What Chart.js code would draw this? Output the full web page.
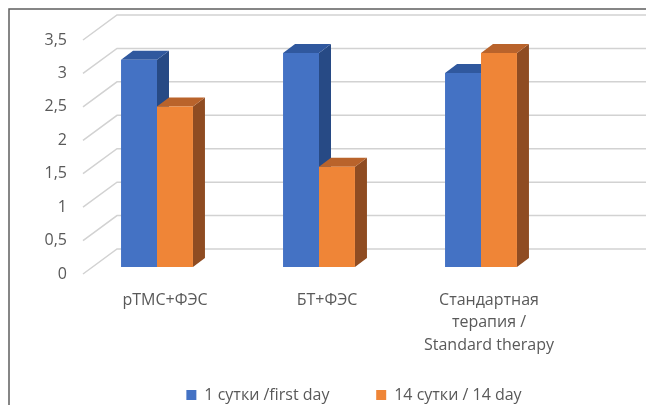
<!DOCTYPE html>
<html>
<head>
<meta charset="utf-8">
<script src="https://cdn.jsdelivr.net/npm/chart.js@4/dist/chart.umd.min.js"></script>
<style>
  body { margin: 0; background: #fff; }
</style>
</head>
<body>
<canvas id="chart" width="646" height="405"></canvas>
<script>
const categories = [
    'рТМС+ФЭС',
    'БТ+ФЭС',
    ['Стандартная', 'терапия /', 'Standard therapy'],
];
const seriesNames = ['1 сутки /first day', '14 сутки / 14 day'];
const firstDay = [3.1, 3.2, 2.9];
const day14 = [2.4, 1.5, 3.2];
const yTicks = [0, 0.5, 1, 1.5, 2, 2.5, 3, 3.5];

// depth of a bar and offset of the back wall (px)
const DX = 12, DY = -9;
const WALL_DX = 41, WALL_DY = -18;
const FRONT_DX = 7, FRONT_DY = 7;
const LEGEND_SHIFT = 73;

const faceColors = [
    { side: '#274a85', top: '#30589e' },
    { side: '#8f4c22', top: '#b9632b' },
];

const depthPlugin = {
    id: 'depth',
    afterLayout(chart) {
        // legend sits centred on the whole frame, not on the plot
        chart.legend.left += LEGEND_SHIFT;
        chart.legend.right += LEGEND_SHIFT;
    },
    beforeDatasetsDraw(chart) {
        const ctx = chart.ctx;
        const area = chart.chartArea;
        const yScale = chart.scales.y;
        ctx.save();
        // floor / wall gridlines
        ctx.strokeStyle = '#d2d2d2';
        ctx.lineWidth = 1.5;
        yTicks.forEach((v) => {
            const py = yScale.getPixelForValue(v);
            ctx.beginPath();
            ctx.moveTo(area.left + FRONT_DX, py + FRONT_DY);
            ctx.lineTo(area.left + WALL_DX, py + WALL_DY);
            ctx.lineTo(chart.width, py + WALL_DY);
            ctx.stroke();
        });
        // side and top faces of every bar
        chart.data.datasets.forEach((ds, i) => {
            const meta = chart.getDatasetMeta(i);
            meta.data.forEach((bar) => {
                const l = bar.x - bar.width / 2;
                const r = bar.x + bar.width / 2;
                const t = bar.y;
                const b = bar.base;
                ctx.fillStyle = faceColors[i].side;
                ctx.beginPath();
                ctx.moveTo(r, t);
                ctx.lineTo(r + DX, t + DY);
                ctx.lineTo(r + DX, b + DY);
                ctx.lineTo(r, b);
                ctx.closePath();
                ctx.fill();
                ctx.fillStyle = faceColors[i].top;
                ctx.beginPath();
                ctx.moveTo(l, t);
                ctx.lineTo(l + DX, t + DY);
                ctx.lineTo(r + DX, t + DY);
                ctx.lineTo(r, t);
                ctx.closePath();
                ctx.fill();
            });
        });
        ctx.restore();
    },
    afterDraw(chart) {
        const ctx = chart.ctx;
        ctx.save();
        ctx.strokeStyle = '#5f5f5f';
        ctx.lineWidth = 1.5;
        ctx.strokeRect(9, 9, 800, 600);
        ctx.restore();
    },
};

const ctx = document.getElementById('chart').getContext('2d');
const chart = new Chart(ctx, {
    type: 'bar',
    data: {
        labels: categories,
        datasets: [{
            label: seriesNames[0],
            data: firstDay,
            backgroundColor: '#4472c4',
            borderWidth: 0,
        }, {
            label: seriesNames[1],
            data: day14,
            backgroundColor: '#ef8537',
            borderWidth: 0,
        }],
    },
    options: {
        responsive: false,
        animation: false,
        layout: {
            padding: { left: 0, right: 84, top: 33, bottom: -8 },
        },
        datasets: {
            bar: {
                categoryPercentage: 0.444,
                barPercentage: 1.0,
            },
        },
        scales: {
            x: {
                grid: { display: false, drawTicks: false },
                border: { display: false },
                ticks: {
                    color: '#595959',
                    font: { family: 'Open Sans', size: 16, lineHeight: 1.4 },
                    labelOffset: 8,
                    padding: 22,
                    maxRotation: 0,
                    autoSkip: false,
                },
                afterFit(scale) { scale.height = 119; },
            },
            y: {
                min: 0,
                max: 3.5,
                grid: { display: false, drawTicks: false },
                border: { display: false },
                ticks: {
                    stepSize: 0.5,
                    color: '#595959',
                    font: { family: 'Open Sans', size: 16 },
                    labelOffset: 7,
                    padding: 9,
                    callback: (v) => String(v).replace('.', ','),
                },
                afterFit(scale) { scale.width = 76; },
            },
        },
        plugins: {
            tooltip: { enabled: false },
            legend: {
                position: 'bottom',
                labels: {
                    color: '#595959',
                    font: { family: 'Open Sans', size: 16 },
                    boxWidth: 10,
                    boxHeight: 10,
                    padding: 1,
                    generateLabels(chart) {
                        const items = Chart.defaults.plugins.legend.labels.generateLabels(chart);
                        items.forEach((it, i) => {
                            if (i < items.length - 1) it.text = it.text + '\u00a0'.repeat(11);
                        });
                        return items;
                    },
                },
            },
        },
    },
    plugins: [depthPlugin],
});
</script>
</body>
</html>
